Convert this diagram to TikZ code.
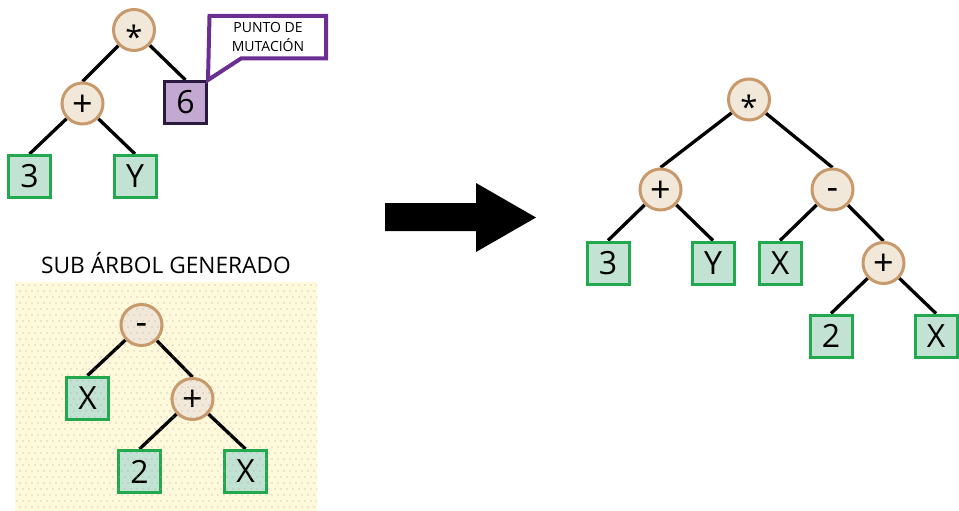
\documentclass[tikz,border=0pt]{standalone}
\usepackage{fontspec}
\setmainfont{Open Sans}
\usetikzlibrary{backgrounds}
\definecolor{opfill}{HTML}{F2E8DA}
\definecolor{opline}{HTML}{C8996B}
\definecolor{leaffill}{HTML}{C2E3D3}
\definecolor{leafline}{HTML}{22A84D}
\definecolor{mutfill}{HTML}{C3A9D1}
\definecolor{mutline}{HTML}{2B1A40}
\definecolor{callline}{HTML}{6B2F94}
\definecolor{panelfill}{HTML}{FEF9DA}
\definecolor{dotcol}{HTML}{A8A496}
\pgfdeclarelayer{edges}
\pgfdeclarelayer{front}
\pgfsetlayers{background,edges,main,front}
% operator glyph, lowered so that its visual centre sits on the node centre
\newcommand{\opsym}[2]{\smash{\raisebox{-#1}{#2}}}
\tikzset{
  opnode/.style={circle, draw=opline, fill=opfill, line width=3pt,
    minimum size=41pt, inner sep=0pt, font=\fontsize{36}{36}\selectfont},
  leaf/.style={rectangle, draw=leafline, fill=leaffill, line width=3pt,
    minimum size=42pt, inner sep=0pt, font=\fontsize{32}{32}\selectfont},
  mutleaf/.style={leaf, draw=mutline, fill=mutfill},
  edge/.style={draw=black, line width=3.3pt},
  callout/.style={draw=callline, fill=white, line width=4pt, line join=miter},
}
\newcommand{\opplus}{\opsym{0.36em}{+}}
\newcommand{\opminus}{\opsym{0.27em}{-}}
\newcommand{\opstar}{{\fontsize{31}{31}\selectfont\opsym{0.6em}{*}}}
\begin{document}
\begin{tikzpicture}[x=1pt,y=-1pt]
\useasboundingbox (0,0) rectangle (959,511);

% ---- original tree ----
\node[opnode] (a1) at (134,30) {\opstar};
\node[opnode] (a2) at (82.5,103.5) {\opplus};
\node[mutleaf] (a6) at (185.5,102.5) {6};
\node[leaf] (a3) at (29.5,176.5) {3};
\node[leaf] (ay) at (135,176.5) {Y};
\begin{pgfonlayer}{edges}
\draw[edge] (a1) -- (a2.north);
\draw[edge] (a1) -- (a6.north);
\draw[edge] (a2) -- (a3.north);
\draw[edge] (a2) -- (ay.north);
\end{pgfonlayer}

% ---- mutation point callout ----
\coordinate (c1) at (209.5,16);
\coordinate (c2) at (326,16);
\coordinate (c3) at (326,58.5);
\coordinate (c4) at (241,58.5);
\draw[callout] (c1) -- (c2) -- (c3) -- (c4) -- (a6.north east) -- cycle;
\node[align=center, font=\fontsize{14}{19}\selectfont] (ctext) at (268,37)
  {PUNTO DE\\MUTACIÓN};

% ---- generated subtree ----
\node[font=\fontsize{22.7}{23}\selectfont] (title) at (166,263) {SUB ÁRBOL GENERADO};
\begin{pgfonlayer}{background}
\fill[panelfill] (15,282) rectangle (317,511);
\end{pgfonlayer}
\node[opnode] (s1) at (141.5,325) {\opminus};
\node[leaf] (sx) at (87.5,398) {X};
\node[opnode] (s2) at (192.5,399) {\opplus};
\node[leaf] (s3) at (139.5,471.5) {2};
\node[leaf] (s4) at (245.5,471.5) {X};
\begin{pgfonlayer}{edges}
\draw[edge] (s1) -- (sx.north);
\draw[edge] (s1) -- (s2.north);
\draw[edge] (s2) -- (s3.north);
\draw[edge] (s2) -- (s4.north);
\end{pgfonlayer}
\begin{pgfonlayer}{front}
\begin{scope}
\clip (15,282) rectangle (317,511);
\foreach \i in {0,...,50} {
  \foreach \j in {0,...,38} {
    \fill[dotcol] ({17+6*\i+3*mod(\j,2)},{285+6*\j}) circle (0.55pt);
  }
}
\end{scope}
\end{pgfonlayer}

% ---- big arrow ----
\fill[black] (385,203) -- (476,203) -- (476,183) -- (536,217.5)
  -- (476,252) -- (476,231) -- (385,231) -- cycle;

% ---- resulting tree ----
\node[opnode] (r1) at (749,99.5) {\opstar};
\node[opnode] (r2) at (660.5,189.5) {\opplus};
\node[opnode] (r3) at (832.5,189.5) {\opminus};
\node[leaf] (r4) at (608,263) {3};
\node[leaf] (r5) at (713,263) {Y};
\node[leaf] (r6) at (780,263) {X};
\node[opnode] (r7) at (883.5,263) {\opplus};
\node[leaf] (r8) at (831,336) {2};
\node[leaf] (r9) at (936,336) {X};
\begin{pgfonlayer}{edges}
\draw[edge] (r1) -- (r2.north);
\draw[edge] (r1) -- (r3.north);
\draw[edge] (r2) -- (r4.north);
\draw[edge] (r2) -- (r5.north);
\draw[edge] (r3) -- (r6.north);
\draw[edge] (r3) -- (r7.north);
\draw[edge] (r7) -- (r8.north);
\draw[edge] (r7) -- (r9.north);
\end{pgfonlayer}
\end{tikzpicture}
\end{document}
